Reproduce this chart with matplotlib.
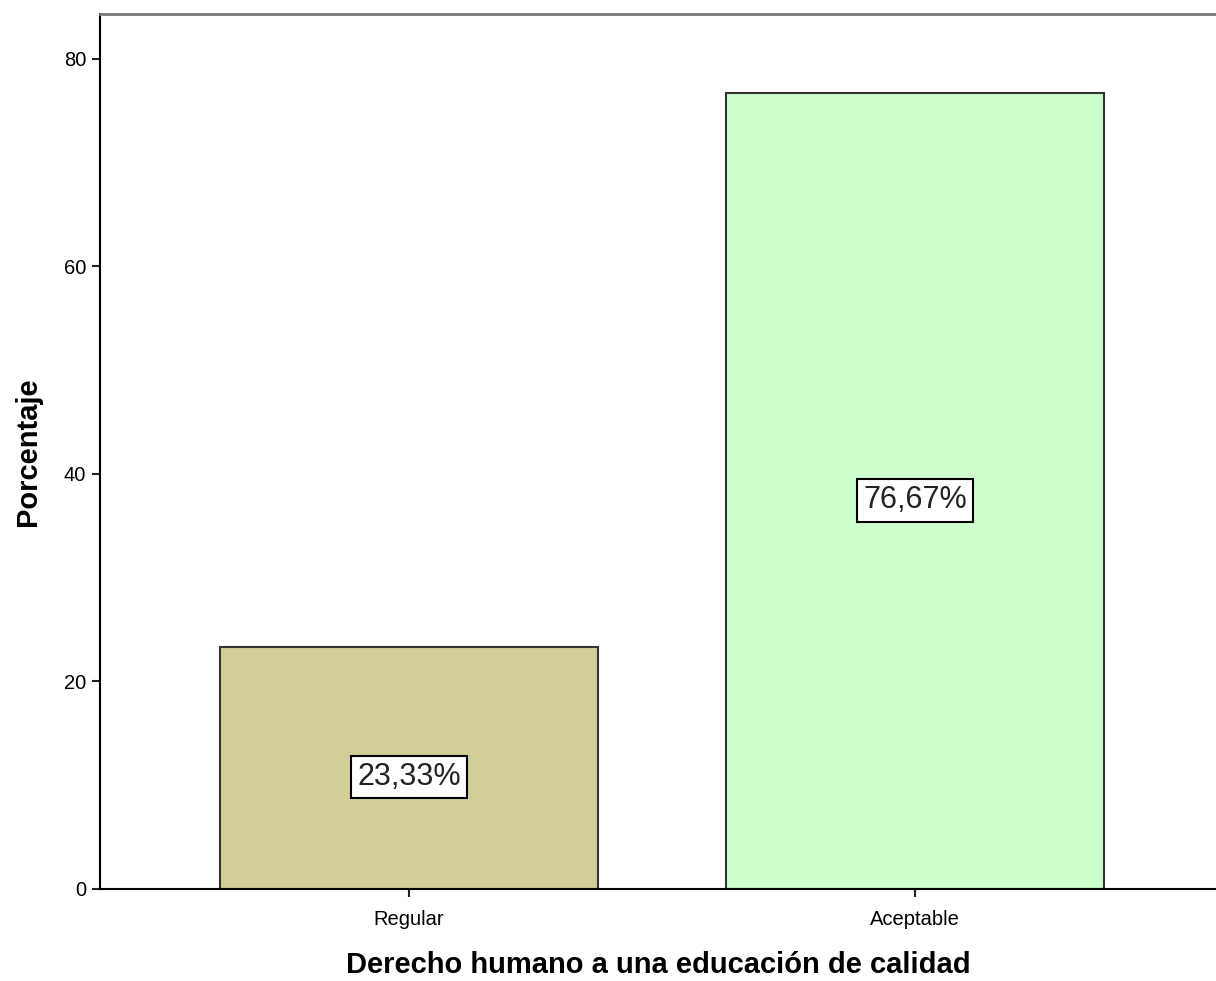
import matplotlib.pyplot as plt

plt.rcParams['font.family'] = ['Liberation Sans', 'DejaVu Sans']

categories = ['Regular', 'Aceptable']
percentages = [23.33, 76.67]
labels = ['23,33%', '76,67%']
colors = ['#d3ce97', '#ccffcc']

fig = plt.figure(figsize=(12.16, 9.81), dpi=100)
ax = fig.add_axes([100 / 1216, 1 - 889 / 981, 1 - 100 / 1216, (889 - 14) / 981])

x = list(range(len(categories)))
ax.bar(x, percentages, width=0.747, color=colors, edgecolor='#333333', linewidth=1.5)

for xi, val, lab in zip(x, percentages, labels):
    ax.text(xi, val / 2 - 0.9, lab, ha='center', va='center', fontsize=22, color='#222222',
            bbox=dict(boxstyle='square,pad=0.2', facecolor='white', edgecolor='black', linewidth=1.5))

ax.set_xlim(-0.611, 1.595)
ax.set_ylim(0, 84.3)
ax.set_yticks([0, 20, 40, 60, 80])
ax.set_xticks(x)
ax.set_xticklabels(categories)
ax.tick_params(axis='both', labelsize=14.5, width=1.5, length=6, color='#222222')
ax.tick_params(axis='x', pad=9)
ax.tick_params(axis='y', pad=4)

ax.spines['right'].set_visible(False)
ax.spines['top'].set_color('#777777')
ax.spines['top'].set_linewidth(2)
ax.spines['left'].set_linewidth(1.5)
ax.spines['bottom'].set_linewidth(1.5)

ax.set_ylabel('Porcentaje', fontsize=21, fontweight='bold', labelpad=16)
ax.set_xlabel('Derecho humano a una educación de calidad', fontsize=21, fontweight='bold', labelpad=16)

fig.savefig('out.png', dpi=100)
